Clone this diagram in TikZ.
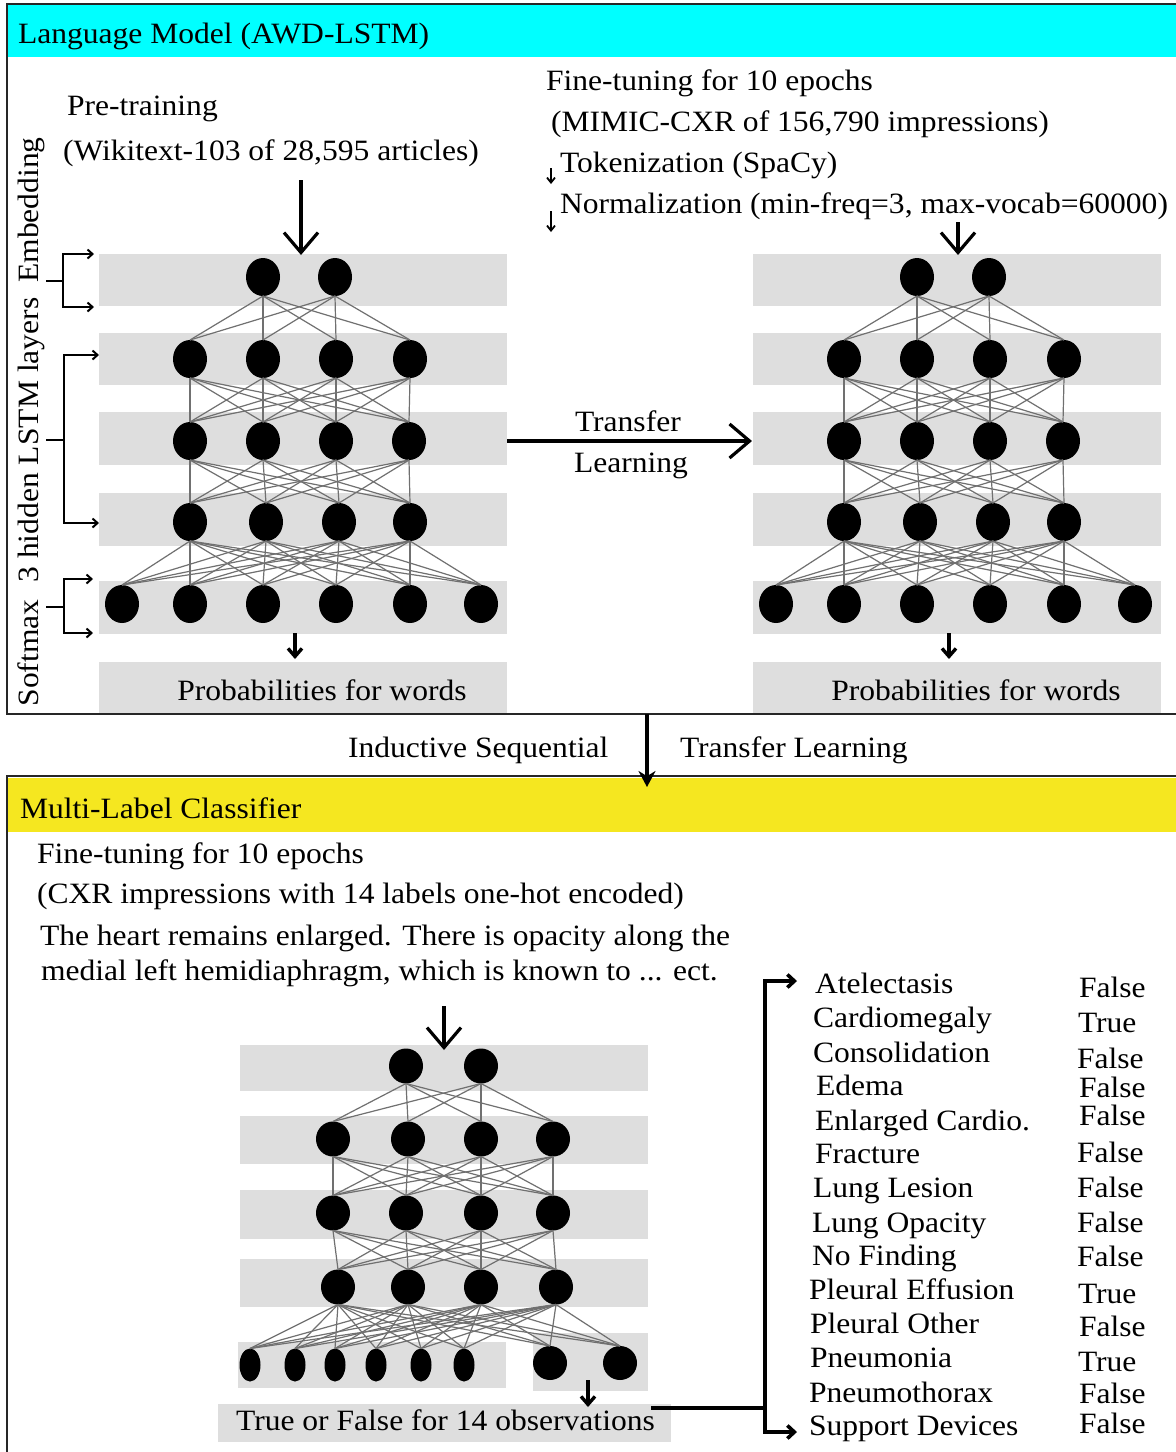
\documentclass[tikz,border=0pt]{standalone}
\usepackage{fontspec}
\setmainfont{Liberation Serif}[FakeStretch=1.07]
\usetikzlibrary{shapes.geometric,arrows.meta}

\definecolor{hdrcyan}{RGB}{0,255,255}
\definecolor{hdryellow}{RGB}{245,231,32}
\definecolor{bandgray}{RGB}{222,222,222}
\definecolor{wiregray}{RGB}{112,112,112}

% one stacked network of the language model (bands, neurons, wiring, output)
\newcommand\lmnet[1]{%
  \foreach \t/\b in {254/306,333/385,412/465,493/546,581/634,662/713}
    \fill[bandgray] (99,\t) rectangle (507,\b);
  \foreach \x [count=\k] in {263,335} \node[neuron] (#1-1-\k) at (\x,277) {};
  \foreach \x [count=\k] in {190,263,336,410} \node[neuron] (#1-2-\k) at (\x,359) {};
  \foreach \x [count=\k] in {190,263,336,409} \node[neuron] (#1-3-\k) at (\x,441) {};
  \foreach \x [count=\k] in {190,266,339,410} \node[neuron] (#1-4-\k) at (\x,522) {};
  \foreach \x [count=\k] in {122,190,263,336,410,481} \node[neuron] (#1-5-\k) at (\x,604) {};
  \foreach \i in {1,2} \foreach \j in {1,...,4}
    \draw[wire] (#1-1-\i.south) -- (#1-2-\j.north);
  \foreach \i in {1,...,4} \foreach \j in {1,...,4} {
    \draw[wire] (#1-2-\i.south) -- (#1-3-\j.north);
    \draw[wire] (#1-3-\i.south) -- (#1-4-\j.north);}
  \foreach \i in {1,...,4} \foreach \j in {1,...,6}
    \draw[wire] (#1-4-\i.south) -- (#1-5-\j.north);
  \coordinate (#1-out) at (295,633);
  \coordinate (#1-outtip) at (295,659);
  \draw[smallarrow] (#1-out) -- (#1-outtip);
  \node[anchor=base] (#1-prob) at (322,700) {Probabilities for words};
}

\begin{document}
\begin{tikzpicture}[x=1pt,y=-1pt,
  every node/.style={font=\fontsize{29.5}{34}\selectfont, inner sep=0pt, outer sep=0pt},
  txt/.style={anchor=base west},
  neuron/.style={ellipse, fill=black, minimum width=34, minimum height=38},
  bneuron/.style={ellipse, fill=black, minimum width=34, minimum height=35},
  thinneuron/.style={ellipse, fill=black, minimum width=21, minimum height=33},
  wire/.style={wiregray, line width=1.2},
  frame/.style={draw=black!85, line width=2.5},
  bigarrow/.style={line width=3.2, -{Straight Barb[length=20, width=34, line width=3.2]}},
  smallarrow/.style={line width=3.4, -{Straight Barb[length=8, width=14, line width=3.4]}},
  tinyarrow/.style={line width=1.8, -{Straight Barb[length=5, width=8, line width=1.8]}},
  brk/.style={line width=2, {Straight Barb[length=5, width=9, line width=2]}-{Straight Barb[length=5, width=9, line width=2]}},
  bigbrk/.style={line width=3.6, {Straight Barb[length=7, width=13, line width=3.6]}-{Straight Barb[length=7, width=13, line width=3.6]}},
]
\useasboundingbox[fill=white] (0,0) rectangle (1176,1452);

% ---------- language model panel ----------
\fill[hdrcyan] (7,4) rectangle (1190,57);
\node[txt] (lmtitle) at (18,43) {Language Model (AWD-LSTM)};

\node[txt] (pretrain) at (67,115) {Pre-training};
\node[txt] (wiki) at (63,160) {(Wikitext-103 of 28,595 articles)};

\node[txt] (ft) at (546,90) {Fine-tuning for 10 epochs};
\node[txt] (mimic) at (551,131) {(MIMIC-CXR of 156,790 impressions)};
\node[txt] (tok) at (560,172) {Tokenization (SpaCy)};
\node[txt] (norm) at (560,213) {Normalization (min-freq=3, max-vocab=60000)};
\coordinate (tokA) at (551,168); \coordinate (tokB) at (551,184);
\coordinate (normA) at (551,211); \coordinate (normB) at (551,232);
\draw[tinyarrow] (tokA) -- (tokB);
\draw[tinyarrow] (normA) -- (normB);

\lmnet{L}
\begin{scope}[xshift=654]
  \lmnet{R}
\end{scope}

% inputs into the two networks
\coordinate (Lin) at (301,180); \coordinate (Ltop) at (301,255);
\draw[bigarrow] (Lin) -- (Ltop);
\coordinate (Rin) at (958,222); \coordinate (Rtop) at (958,255);
\draw[bigarrow] (Rin) -- (Rtop);

% transfer between the two networks
\coordinate (trA) at (507,441); \coordinate (trB) at (752,441);
\draw[bigarrow] (trA) -- (trB);
\node[txt] (tr1) at (575,431) {Transfer};
\node[txt] (tr2) at (574,472) {Learning};

% layer brackets on the left
\node[rotate=90, anchor=base] (smx) at (38,653) {Softmax};
\node[rotate=90, anchor=base] (lstm) at (38,440) {3 hidden LSTM layers};
\node[rotate=90, anchor=base] (emb) at (38,210) {Embedding};
\coordinate (e1) at (94,254); \coordinate (e2) at (94,307);
\draw[brk] (e1) -- (63,254) -- (63,307) -- (e2);
\draw[line width=2] (46,281) -- (63,281);
\coordinate (h1) at (99,355); \coordinate (h2) at (99,523);
\draw[brk] (h1) -- (64,355) -- (64,523) -- (h2);
\draw[line width=2] (46,440) -- (64,440);
\coordinate (s1) at (93,579); \coordinate (s2) at (93,633);
\draw[brk] (s1) -- (64,579) -- (64,633) -- (s2);
\draw[line width=2] (46,607) -- (64,607);

\draw[frame] (7,4) rectangle (1190,714);

% ---------- between the panels ----------
\node[txt] (ind1) at (348,757) {Inductive Sequential};
\node[txt] (ind2) at (680,757) {Transfer Learning};

% ---------- classifier panel ----------
\fill[hdryellow] (7,778) rectangle (1190,832);
\draw[frame] (7,776) rectangle (1190,1470);
\node[txt] (mltitle) at (20,818) {Multi-Label Classifier};

\coordinate (indA) at (647,714); \coordinate (indB) at (647,787);
\draw[line width=4.2, -{Stealth[length=16, width=17]}] (indA) -- (indB);

\node[txt] (cft) at (37,863) {Fine-tuning for 10 epochs};
\node[txt] (cxr) at (37,903) {(CXR impressions with 14 labels one-hot encoded)};
\node[txt] (ex1) at (40,945) {The heart remains enlarged. There is opacity along the};
\node[txt] (ex2) at (41,980) {medial left hemidiaphragm, which is known to ... ect.};

\foreach \t/\b in {1045/1091,1116/1164,1190/1239,1259/1307}
  \fill[bandgray] (240,\t) rectangle (648,\b);
\fill[bandgray] (238,1342) rectangle (506,1388);
\fill[bandgray] (533,1333) rectangle (648,1391);
\fill[bandgray] (218,1404) rectangle (671,1442);

\foreach \x [count=\k] in {406,481} \node[bneuron] (C-1-\k) at (\x,1066) {};
\foreach \x [count=\k] in {333,408,481,553} \node[bneuron] (C-2-\k) at (\x,1139) {};
\foreach \x [count=\k] in {333,406,481,553} \node[bneuron] (C-3-\k) at (\x,1213) {};
\foreach \x [count=\k] in {338,408,481,556} \node[bneuron] (C-4-\k) at (\x,1287) {};
\foreach \x [count=\k] in {250,295,335,376,421,464} \node[thinneuron] (C-5-\k) at (\x,1365) {};
\node[bneuron, minimum height=34] (C-5-7) at (550,1363) {};
\node[bneuron, minimum height=34] (C-5-8) at (620,1363) {};
\foreach \i in {1,2} \foreach \j in {1,...,4}
  \draw[wire] (C-1-\i.south) -- (C-2-\j.north);
\foreach \i in {1,...,4} \foreach \j in {1,...,4} {
  \draw[wire] (C-2-\i.south) -- (C-3-\j.north);
  \draw[wire] (C-3-\i.south) -- (C-4-\j.north);}
\foreach \i in {1,...,4} \foreach \j in {1,...,8}
  \draw[wire] (C-4-\i.south) -- (C-5-\j.north);

\coordinate (Cin) at (444,1006); \coordinate (Ctop) at (444,1050);
\draw[bigarrow] (Cin) -- (Ctop);
\coordinate (Cout) at (588,1380); \coordinate (Couttip) at (588,1407);
\draw[smallarrow] (Cout) -- (Couttip);
\node[anchor=base] (tf) at (445.5,1430) {True or False for 14 observations};

% bracket fanning out to the observations
\coordinate (tfR) at (651,1408);
\coordinate (brTop) at (797,981); \coordinate (brBot) at (797,1432);
\draw[line width=3.6] (tfR) -- (765,1408);
\draw[bigbrk] (brTop) -- (765,981) -- (765,1432) -- (brBot);

\foreach \xx/\yy/\nm [count=\k] in {815/993/Atelectasis, 813/1027/Cardiomegaly,
    813/1062/Consolidation, 816/1095/Edema, 815/1130/Enlarged Cardio.,
    815/1163/Fracture, 813/1197/Lung Lesion, 812/1232/Lung Opacity,
    812/1265/No Finding, 809/1299/Pleural Effusion, 810/1333/Pleural Other,
    810/1367/Pneumonia, 809/1402/Pneumothorax, 809/1435/Support Devices}
  \node[txt] (obs\k) at (\xx,\yy) {\nm};
\foreach \xx/\yy/\v [count=\k] in {1079/997/False, 1078/1032/True, 1077/1068/False,
    1079/1097/False, 1079/1125/False, 1077/1162/False, 1077/1197/False,
    1077/1232/False, 1077/1266/False, 1078/1303/True, 1079/1336/False,
    1078/1371/True, 1079/1403/False, 1079/1433/False}
  \node[txt] (val\k) at (\xx,\yy) {\v};
\end{tikzpicture}
\end{document}
